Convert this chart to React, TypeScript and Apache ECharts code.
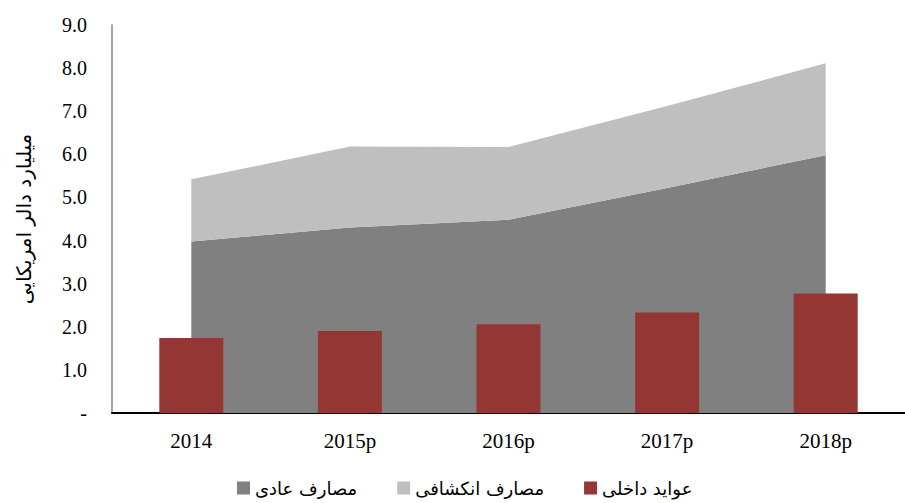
import React, { useEffect, useRef } from "react";
import * as echarts from "echarts";

const categories = ["2014", "2015p", "2016p", "2017p", "2018p"];
const regularSpending = [3.98, 4.30, 4.48, 5.22, 5.98];
const developmentSpending = [1.44, 1.88, 1.69, 1.90, 2.13];
const domesticRevenue = [1.74, 1.90, 2.06, 2.33, 2.77];

const seriesNames = ["مصارف عادی", "مصارف انکشافی", "عواید داخلی"];
const yAxisName = "میلیارد دالر امریکایی";

export default function App() {
  const ref = useRef<HTMLDivElement>(null);
  useEffect(() => {
    if (!ref.current) return;
    const chart = echarts.init(ref.current, null, { renderer: "svg" });
    chart.setOption({
      animation: false,
      backgroundColor: "#ffffff",
      grid: { left: 112, top: 25, width: 796, height: 388, containLabel: false },
      legend: {
        bottom: 1,
        left: 232,
        itemWidth: 13,
        itemHeight: 13,
        itemGap: 40,
        icon: "rect",
        data: seriesNames,
        textStyle: { fontFamily: "DejaVu Sans", fontSize: 18, color: "#000" },
      },
      xAxis: {
        type: "category",
        data: categories,
        boundaryGap: true,
        axisLine: { lineStyle: { color: "#000", width: 2 } },
        axisTick: { show: false },
        axisLabel: {
          color: "#000",
          fontFamily: "Liberation Serif",
          fontSize: 21,
          margin: 17,
        },
      },
      yAxis: {
        type: "value",
        min: 0,
        max: 9,
        interval: 1,
        name: yAxisName,
        nameLocation: "middle",
        nameRotate: 90,
        nameGap: 78,
        nameTextStyle: { fontFamily: "DejaVu Sans", fontSize: 20, color: "#000" },
        axisLine: { show: true, lineStyle: { color: "#868686", width: 1.5 } },
        axisTick: { show: false },
        splitLine: { show: false },
        axisLabel: {
          color: "#000",
          fontFamily: "Liberation Serif",
          fontSize: 20,
          margin: 25,
          formatter: (v: number) => (v === 0 ? "-" : v.toFixed(1)),
        },
      },
      series: [
        {
          name: seriesNames[0],
          type: "line",
          stack: "spend",
          data: regularSpending,
          showSymbol: false,
          symbol: "none",
          lineStyle: { width: 0 },
          itemStyle: { color: "#808080" },
          areaStyle: { color: "#808080", opacity: 1 },
          z: 1,
        },
        {
          name: seriesNames[1],
          type: "line",
          stack: "spend",
          data: developmentSpending,
          showSymbol: false,
          symbol: "none",
          lineStyle: { width: 0 },
          itemStyle: { color: "#BFBFBF" },
          areaStyle: { color: "#BFBFBF", opacity: 1 },
          z: 1,
        },
        {
          name: seriesNames[2],
          type: "bar",
          data: domesticRevenue,
          barWidth: 64,
          itemStyle: { color: "#943634" },
          z: 3,
        },
      ],
    });
    return () => chart.dispose();
  }, []);
  return (
    <div
      ref={ref}
      style={{ position: "fixed", left: 0, top: 0, width: 905, height: 503 }}
    />
  );
}
